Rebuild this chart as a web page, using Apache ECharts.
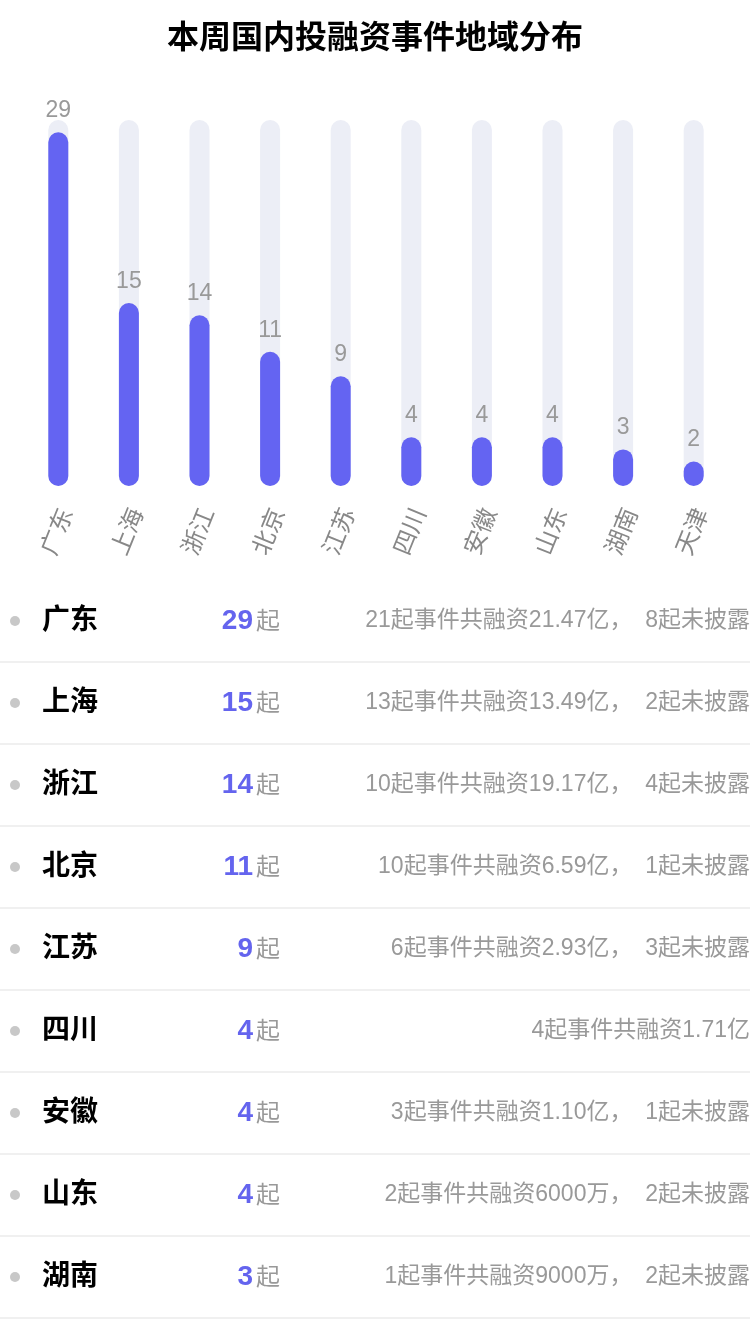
<!DOCTYPE html>
<html>

<head>
    <meta charset="utf-8">
    <title>ECharts</title>
    <script src="https://cdn.jsdelivr.net/npm/echarts@6/dist/echarts.min.js"></script>
    <style>
        body { margin: 0; background: #fff; }
    </style>
</head>

<body>
    <div id="main" style="width: 750px;height:1334px;"></div>
    <script type="text/javascript">
        // 数据
        var provinces = ['广东', '上海', '浙江', '北京', '江苏', '四川', '安徽', '山东', '湖南', '天津'];
        var counts = [29, 15, 14, 11, 9, 4, 4, 4, 3, 2];
        var yTicks = [0, 30];
        // 列表（只显示前9条）
        var listNames = ['广东', '上海', '浙江', '北京', '江苏', '四川', '安徽', '山东', '湖南'];
        var listCounts = [29, 15, 14, 11, 9, 4, 4, 4, 3];
        var listDesc = [
            '21起事件共融资21.47亿，8起未披露',
            '13起事件共融资13.49亿，2起未披露',
            '10起事件共融资19.17亿，4起未披露',
            '10起事件共融资6.59亿，1起未披露',
            '6起事件共融资2.93亿，3起未披露',
            '4起事件共融资1.71亿',
            '3起事件共融资1.10亿，1起未披露',
            '2起事件共融资6000万，2起未披露',
            '1起事件共融资9000万，2起未披露'
        ];

        var myChart = echarts.init(document.getElementById('main'));
        var font = '"Liberation Sans", "Noto Sans CJK SC", sans-serif';

        // 下方列表用 graphic 画
        var graphics = [];
        var rowTop = 621, rowH = 82;
        listNames.forEach(function (name, i) {
            var cy = rowTop + rowH * i;
            graphics.push({
                type: 'circle', shape: { cx: 15, cy: cy, r: 5 },
                style: { fill: '#c8c8c8' }
            });
            graphics.push({
                type: 'text', x: 42, y: cy,
                style: {
                    text: name, fill: '#000', font: 'bold 28px ' + font,
                    verticalAlign: 'middle', align: 'left'
                }
            });
            graphics.push({
                type: 'text', x: 253, y: cy,
                style: {
                    text: String(listCounts[i]), fill: '#6464ee', font: 'bold 28px ' + font,
                    verticalAlign: 'middle', align: 'right'
                }
            });
            graphics.push({
                type: 'text', x: 256, y: cy + 1,
                style: {
                    text: '起', fill: '#999', font: '24px ' + font,
                    verticalAlign: 'middle', align: 'left'
                }
            });
            graphics.push({
                type: 'text', x: 750, y: cy,
                style: {
                    // 逗号后留一点空
                    text: listDesc[i].replace('，', '，  '), fill: '#999', font: '23px ' + font,
                    verticalAlign: 'middle', align: 'right'
                }
            });
            graphics.push({
                type: 'rect', shape: { x: 0, y: cy + 40, width: 750, height: 2 },
                style: { fill: '#f0f0f0' }
            });
        });

        option = {
            backgroundColor: '#fff',
            title: {
                text: '本周国内投融资事件地域分布',
                left: 'center',
                top: 18,
                textStyle: { fontSize: 32, fontWeight: 'bold', color: '#000', fontFamily: font }
            },
            grid: { left: 23, right: 21, top: 120, bottom: 848 },
            xAxis: {
                type: 'category',
                data: provinces,
                axisLine: { show: false },
                axisTick: { show: false },
                axisLabel: {
                    rotate: 68,
                    align: 'center',
                    verticalAlign: 'middle',
                    margin: 46,
                    fontSize: 24,
                    color: '#888',
                    fontFamily: font
                }
            },
            yAxis: {
                type: 'value',
                min: yTicks[0],
                max: yTicks[1],
                show: false
            },
            series: [{
                type: 'bar',
                data: counts,
                barWidth: 20,
                showBackground: true,
                backgroundStyle: { color: '#eceef6', borderRadius: 10 },
                itemStyle: { color: '#6464f2', borderRadius: 10 },
                label: {
                    show: true,
                    position: 'top',
                    distance: 10,
                    fontSize: 23,
                    color: '#999',
                    fontFamily: font
                }
            }],
            graphic: graphics
        };

        myChart.setOption(option);
    </script>
</body>

</html>
